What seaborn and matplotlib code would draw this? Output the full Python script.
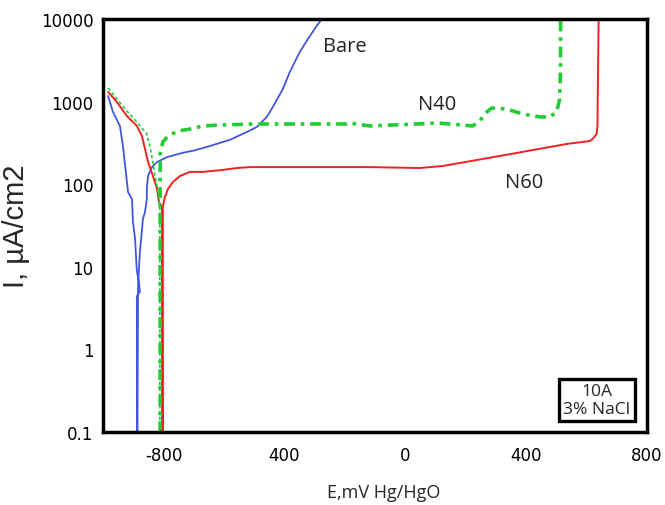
import matplotlib
matplotlib.use("Agg")
import matplotlib.pyplot as plt
import pandas as pd
import seaborn as sns

# ---- data (E in mV vs Hg/HgO, I in uA/cm2) ----
bare_E = [-983, -967, -944, -934, -917, -904, -901, -894, -888, -881, -878, -888,
          -887, -886,
          -884, -878, -871, -868, -861, -855, -855, -851, -838, -821, -788, -736,
          -700, -646, -580, -524, -491, -458, -438, -405, -382, -349, -322, -293, -276]
bare_I = [1169, 748, 507, 290, 80, 66, 35, 22, 8.9, 6.5, 5.0, 4.4,
          0.1, 0.1,
          5.9, 15, 28, 38, 46, 66, 87, 126, 161, 186, 213, 240,
          255, 290, 345, 429, 493, 652, 861, 1420, 2280, 3980, 5730, 8230, 10000]

n40_cath_E = [-983, -954, -921, -888, -855, -845, -835, -828, -821, -818, -812, -812]
n40_cath_I = [1462, 1075, 769, 566, 405, 290, 186, 126, 95, 72, 54.5, 0.1]

n40_anod_E = [-811, -811, -805, -802, -788, -772, -752, -712, -669, -613, -504, -193,
              -183, -117, 38, 104, 147, 223, 246, 270, 286, 336, 389, 445, 478, 501,
              511, 514, 514]
n40_anod_I = [0.1, 232, 290, 324, 373, 405, 441, 466, 507, 521, 536, 536,
              551, 507, 536, 551, 536, 507, 582, 748, 836, 813, 708, 652, 652, 748,
              1075, 2700, 10000]

n60_E = [-983, -954, -921, -888, -871, -861, -851, -835, -821, -815, -805, -804,
         -802, -802, -795, -785, -769, -745, -712, -669, -603, -557, -514, -117,
         48, 124, 256, 369, 478, 534, 610, 620, 633, 636, 640]
n60_I = [1307, 988, 670, 507, 383, 267, 186, 126, 87.5, 61, 53, 0.1,
         0.1, 54, 70, 87.5, 106, 126, 141, 141, 149, 157, 161, 161,
         157, 166, 202, 239, 282, 307, 333, 352, 405, 507, 10000]

x_ticks = [-800, -400, 0, 400, 800]
x_ticklabels = ["-800", "400", "0", "400", "800"]
y_ticks = [0.1, 1, 10, 100, 1000, 10000]
y_ticklabels = ["0.1", "1", "10", "100", "1000", "10000"]

labels = {"Bare": (-200, 4700), "N40": (104, 935), "N60": (395, 106)}

# ---- plotting ----
sns.set_style("white")
plt.rcParams["font.family"] = ["DejaVu Sans"]

fig = plt.figure(figsize=(6.65, 5.06), dpi=100)
ax = fig.add_axes([103 / 665, 1 - 433 / 506, 544 / 665, 413 / 506])

blue = "#4455dd"
red = "#ee2222"
green = "#22cc33"

sns.lineplot(x=bare_E, y=bare_I, sort=False, estimator=None, ax=ax,
             color=blue, lw=1.3)
sns.lineplot(x=n60_E, y=n60_I, sort=False, estimator=None, ax=ax,
             color=red, lw=1.4)
sns.lineplot(x=n40_cath_E, y=n40_cath_I, sort=False, estimator=None, ax=ax,
             color=green, lw=1.2, linestyle=(0, (2, 1.5)))
sns.lineplot(x=n40_anod_E, y=n40_anod_I, sort=False, estimator=None, ax=ax,
             color=green, lw=2.6, linestyle=(0, (3, 1.6, 1, 1.6)))

ax.set_yscale("log")
ax.set_xlim(-1000, 800)
ax.set_ylim(0.1, 10000)
ax.set_xticks(x_ticks)
ax.set_xticklabels(x_ticklabels)
ax.set_yticks(y_ticks)
ax.set_yticklabels(y_ticklabels)
ax.minorticks_off()
ax.tick_params(axis="both", direction="in", length=5, width=1.5, labelsize=12,
               colors="black")
ax.tick_params(axis="y", pad=7)
ax.tick_params(axis="x", pad=10)

for s in ax.spines.values():
    s.set_visible(True)
    s.set_color("black")
    s.set_linewidth(2.5)

ax.set_xlabel("")
fig.text(384 / 665, 1 - 493 / 506, "E,mV Hg/HgO", fontsize=13, ha="center",
         va="center", family=["Open Sans", "DejaVu Sans"])
ax.set_ylabel("I, µA/cm2", fontsize=21, family=["Liberation Sans", "DejaVu Sans"])
ax.yaxis.set_label_coords(-0.134, 0.5)

for name, (xv, yv) in labels.items():
    ax.text(xv, yv, name, fontsize=14.5, ha="center", va="center",
            family=["Open Sans", "DejaVu Sans"], color="#222222")

ax.text(0.908, 0.077, "10A\n3% NaCl", transform=ax.transAxes, ha="center",
        va="center", fontsize=12.5, linespacing=1.15,
        family=["Open Sans", "DejaVu Sans"],
        bbox=dict(boxstyle="square,pad=0.25", fc="white", ec="black", lw=2.4))

fig.savefig("out.png", dpi=100)
